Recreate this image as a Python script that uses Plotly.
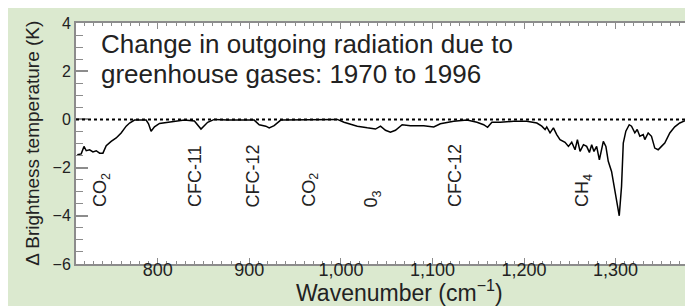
import plotly.graph_objects as go

# Spectrum data
wavenumber = [712.1, 716.4, 719.4, 721.9, 725.6, 729.2, 732.8, 736.5, 740.1, 743.7,
              749.1, 754.6, 760.0, 765.5, 769.2, 774.6, 787.3, 789.9, 792.7, 796.4,
              801.9, 810.9, 829.1, 840.0, 847.2, 854.5, 861.8, 876.3, 905.3, 910.8,
              918.0, 921.7, 927.1, 934.3, 996.1, 1003.4, 1017.9, 1028.8, 1037.8, 1043.3,
              1048.7, 1054.1, 1059.6, 1066.9, 1075.9, 1090.5, 1101.4, 1108.6, 1123.2, 1137.7,
              1148.6, 1155.9, 1160.2, 1164.9, 1174.0, 1188.6, 1203.1, 1214.0, 1219.4, 1223.0,
              1224.8, 1228.4, 1232.1, 1235.7, 1239.3, 1244.8, 1248.5, 1252.1, 1255.7, 1258.3,
              1261.2, 1264.9, 1268.4, 1271.4, 1273.9, 1276.4, 1279.3, 1282.3, 1284.7, 1286.6,
              1289.4, 1292.0, 1295.6, 1299.2, 1304.0, 1306.5, 1308.4, 1311.2, 1314.9, 1317.4,
              1321.0, 1323.6, 1326.5, 1330.2, 1331.9, 1335.6, 1339.2, 1342.8, 1346.5, 1350.1,
              1353.7, 1359.2, 1364.6, 1370.1, 1377.3, 1390.0]
delta_tb = [-1.47, -1.43, -1.12, -1.30, -1.26, -1.35, -1.30, -1.40, -1.40, -1.09,
            -0.91, -0.77, -0.56, -0.28, -0.15, -0.03, -0.03, -0.18, -0.49, -0.31,
            -0.17, -0.12, -0.03, -0.07, -0.40, -0.12, 0.0, -0.03, -0.03, -0.22,
            -0.28, -0.35, -0.26, -0.03, 0.0, -0.12, -0.28, -0.35, -0.40, -0.28,
            -0.45, -0.53, -0.45, -0.22, -0.26, -0.26, -0.31, -0.18, -0.08, -0.03,
            -0.12, -0.22, -0.33, -0.12, -0.12, -0.08, -0.08, -0.15, -0.28, -0.42,
            -0.31, -0.56, -0.35, -0.63, -0.84, -0.95, -1.12, -0.95, -1.26, -0.84,
            -1.33, -1.05, -1.12, -1.37, -1.05, -1.33, -1.12, -1.68, -1.26, -0.91,
            -1.12, -1.74, -2.16, -2.92, -4.0, -2.78, -0.98, -0.49, -0.22, -0.28,
            -0.56, -0.42, -0.70, -0.63, -0.84, -0.56, -0.70, -1.19, -1.26, -1.12,
            -0.98, -0.56, -0.31, -0.15, -0.03, 0.0]

# Gas labels
gas_labels = ["CO<sub>2</sub>", "CFC-11", "CFC-12", "CO<sub>2</sub>", "0<sub>3</sub>", "CFC-12", "CH<sub>4</sub>"]
gas_positions = [738, 840.5, 904, 966, 1035, 1124, 1265]

x_ticks = [800, 900, 1000, 1100, 1200, 1300]
x_tick_labels = ["800", "900", "1,000", "1,100", "1,200", "1,300"]
y_ticks = [-6, -4, -2, 0, 2, 4]
y_tick_labels = ["\u22126", "\u22124", "\u22122", "0", "2", "4"]

title_lines = ["Change in outgoing radiation due to", "greenhouse gases: 1970 to 1996"]

FONT = "Liberation Sans, Arial, sans-serif"
TXT = "#222222"
AXC = "#8c8c8c"

fig = go.Figure()
fig.add_trace(go.Scatter(x=wavenumber, y=delta_tb, mode="lines",
                         line=dict(color="black", width=1.5), hoverinfo="skip",
                         showlegend=False))

fig.add_shape(type="line", xref="paper", yref="y", x0=0, x1=1, y0=0, y1=0,
              line=dict(color="black", width=2, dash="dot"))

annotations = []
for i, t in enumerate(title_lines):
    annotations.append(dict(text=t, xref="paper", yref="paper",
                            x=(91 - 68) / 624, y=[(256 - 36) / 241, (256 - 66) / 241][i],
                            xanchor="left", yanchor="middle", showarrow=False,
                            font=dict(size=26, color=TXT, family=FONT)))
for lab, pos in zip(gas_labels, gas_positions):
    annotations.append(dict(text=lab, x=pos, y=-3.72, xref="x", yref="y",
                            textangle=-90, xanchor="center", yanchor="bottom",
                            showarrow=False, font=dict(size=18, color=TXT, family=FONT)))
annotations.append(dict(text="Wavenumber (cm<sup>\u22121</sup>)", xref="paper", yref="paper",
                        x=(393 - 68) / 624, y=(256 - 283) / 241, xanchor="center",
                        yanchor="middle", showarrow=False,
                        font=dict(size=23, color=TXT, family=FONT)))
annotations.append(dict(text="\u0394 Brightness temperature (K)", xref="paper", yref="paper",
                        x=(24 - 68) / 624, y=0.5, xanchor="center", yanchor="middle",
                        textangle=-90, showarrow=False,
                        font=dict(size=19, color=TXT, family=FONT)))

fig.update_layout(
    width=693, height=306,
    margin=dict(l=68, r=1, t=15, b=50),
    paper_bgcolor="#dbe9cf",
    plot_bgcolor="white",
    annotations=annotations,
    xaxis=dict(range=[710.7, 1390], tickvals=x_ticks, ticktext=x_tick_labels,
               ticks="inside", ticklen=6, tickwidth=1.2, tickcolor=AXC,
               showline=True, linecolor=AXC, linewidth=2, mirror="ticks",
               showgrid=False, zeroline=False, ticklabelstandoff=-12,
               tickfont=dict(size=18, color=TXT, family=FONT),
               minor=dict(dtick=10, tick0=0, ticks="inside", ticklen=3, tickcolor=AXC, tickwidth=1)),
    yaxis=dict(range=[-6, 4], tickvals=y_ticks, ticktext=y_tick_labels,
               ticks="inside", ticklen=12, tickwidth=1.5, tickcolor=AXC,
               showline=True, linecolor=AXC, linewidth=2, mirror="ticks",
               showgrid=False, zeroline=False,
               tickfont=dict(size=16, color=TXT, family=FONT),
               minor=dict(dtick=0.5, tick0=0, ticks="inside", ticklen=7, tickcolor=AXC, tickwidth=1.2)),
)

fig.write_html("out.html")
